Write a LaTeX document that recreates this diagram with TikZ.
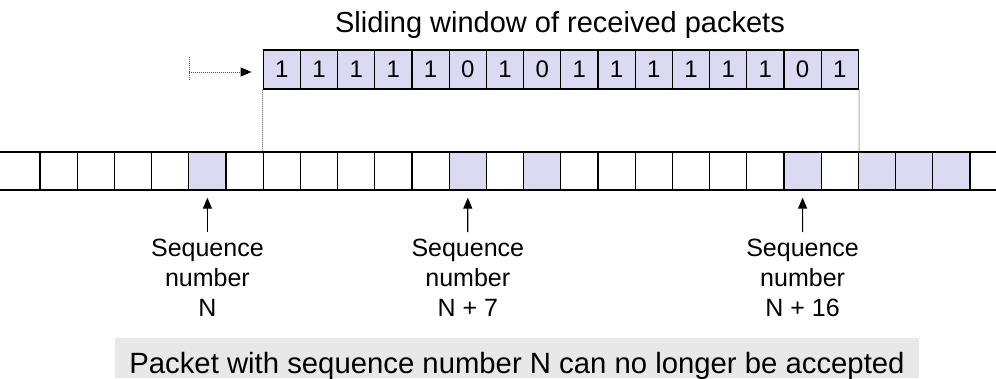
\documentclass[tikz,border=0pt]{standalone}
\usepackage{fontspec}
\setmainfont{Liberation Sans}
\usetikzlibrary{arrows.meta}
\definecolor{recv}{RGB}{218,218,243}
\definecolor{notegray}{RGB}{232,232,232}
\tikzset{
 cellbox/.style={draw=black, line width=1.3pt, minimum width=37.2pt, minimum height=38pt, inner sep=0pt, font=\fontsize{24}{28}\selectfont},
 shadedcell/.style={cellbox, fill=recv},
 wincell/.style={cellbox, fill=recv, minimum height=39pt},
 dotline/.style={draw=black!65, line width=1pt, dash pattern=on 1pt off 1pt},
 uparrow/.style={draw=black, line width=1.2pt, -{Triangle[length=11pt,width=9pt]}},
 seqlabel/.style={align=center, inner sep=0pt, anchor=north, font=\fontsize{25}{30}\selectfont},
 striprule/.style={draw=black, line width=1.3pt},
}
\begin{document}
\begin{tikzpicture}[x=1pt,y=-1pt]
\useasboundingbox (0,0) rectangle (996,378);
% title
\node[font=\fontsize{29}{34}\selectfont, anchor=base, inner sep=0pt] (title) at (560,32) {Sliding window of received packets};
% strip
\draw[striprule] (0,152) -- (996,152);
\draw[striprule] (0,190) -- (996,190);
\foreach \i in {0,1,2,3,5,6,7,8,9,10,12,14,15,16,17,18,19,21}
  \node[cellbox] (c\i) at ({40+37.2*\i+18.6},171) {};
\foreach \i in {4,11,13,20,22,23,24}
  \node[shadedcell] (c\i) at ({40+37.2*\i+18.6},171) {};
% window
\foreach \d [count=\k from 0] in {1,1,1,1,1,0,1,0,1,1,1,1,1,1,0,1}
  \node[wincell] (w\k) at ({263.2+37.2*\k+18.6},69.5) {\d};
% dotted guides
\draw[dotline] (w0.south west) -- (c6.north west);
\draw[dotline] (w15.south east) -- (c21.north east);
\coordinate (tickT) at (189,57);
\coordinate (tickB) at (189,80);
\coordinate (arrS) at (189,72);
\draw[dotline] (tickT) -- (tickB);
\draw[dotline, -{Triangle[length=11pt,width=9pt,color=black]}, shorten >=11pt] (arrS) -- (arrS -| w0.west);
% labels
\node[seqlabel] (lN) at (207.4,239) {Sequence\\number\\N};
\node[seqlabel] (lN7) at (467.8,239) {Sequence\\number\\N + 7};
\node[seqlabel] (lN16) at (802.6,239) {Sequence\\number\\N + 16};
\draw[uparrow] ([yshift=7pt]lN.north) -- ([yshift=-7pt]c4.south);
\draw[uparrow] ([yshift=7pt]lN7.north) -- ([yshift=-7pt]c11.south);
\draw[uparrow] ([yshift=7pt]lN16.north) -- ([yshift=-7pt]c20.south);
% note
\node[fill=notegray, minimum width=804pt, minimum height=40pt, inner sep=0pt, text height=35pt, text depth=5pt, anchor=north, font=\fontsize{29.3}{34}\selectfont] (note) at (517,338) {Packet with sequence number N can no longer be accepted};
\end{tikzpicture}
\end{document}
